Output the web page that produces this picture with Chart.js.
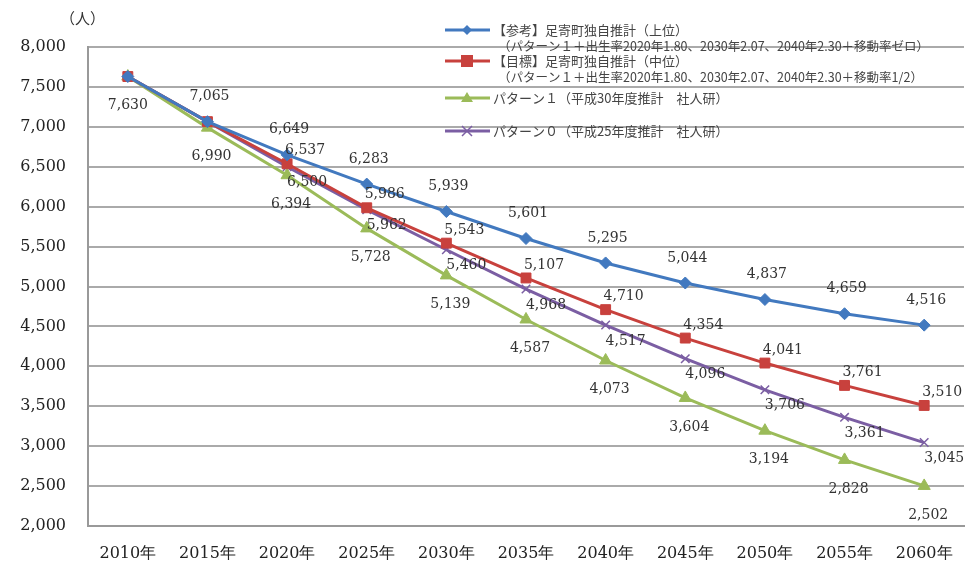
<!DOCTYPE html>
<html>
<head>
<meta charset="utf-8">
<script src="https://cdn.jsdelivr.net/npm/chart.js@4"></script>
<style>
  html, body { margin: 0; padding: 0; background: #fff; overflow: hidden; }
  #wrap { width: 972px; height: 576px; }
</style>
</head>
<body>
<div id="wrap"><canvas id="popChart" width="972" height="576"></canvas></div>
<script>
const years = ['2010年', '2015年', '2020年', '2025年', '2030年', '2035年', '2040年', '2045年', '2050年', '2055年', '2060年'];

// 【参考】上位
const upperEst = [7630, 7065, 6649, 6283, 5939, 5601, 5295, 5044, 4837, 4659, 4516];
// 【目標】中位
const targetEst = [7630, 7065, 6537, 5986, 5543, 5107, 4710, 4354, 4041, 3761, 3510];
// パターン１（H30 社人研）
const pattern1 = [7630, 6990, 6394, 5728, 5139, 4587, 4073, 3604, 3194, 2828, 2502];
// パターン（H25 社人研）
const pattern0 = [7630, 7065, 6500, 5962, 5460, 4968, 4517, 4096, 3706, 3361, 3045];

const seriesNames = [
  '【参考】足寄町独自推計（上位）',
  '【目標】足寄町独自推計（中位）',
  'パターン１（平成30年度推計　社人研）',
  'パターン０（平成25年度推計　社人研）'
];
const seriesNotes = [
  '（パターン１＋出生率2020年1.80、2030年2.07、2040年2.30＋移動率ゼロ）',
  '（パターン１＋出生率2020年1.80、2030年2.07、2040年2.30＋移動率1/2）',
  '',
  ''
];

const BLUE = '#4279bf', RED = '#c8413d', GREEN = '#9bbb59', PURPLE = '#7b5ea3';
const numFont = '"DejaVu Serif", "Liberation Serif", serif';
const jpFont = '"Noto Sans CJK JP", sans-serif';

const fmt = v => v.toLocaleString('en-US');

// value labels: offset from the point, and which points get one
const labelStyle = [
  { dx: 2, dy: -25, from: 1 },
  { dx: 18, dy: -13, from: 2 },
  { dx: 4, dy: 29, from: 0 },
  { dx: 20, dy: 16, from: 2 }
];

const valueLabels = {
  id: 'valueLabels',
  afterDatasetsDraw(chart) {
    const ctx = chart.ctx;
    ctx.save();
    ctx.font = '14px ' + numFont;
    ctx.fillStyle = '#333';
    ctx.textAlign = 'center';
    ctx.textBaseline = 'middle';
    chart.data.datasets.forEach((ds, i) => {
      const st = labelStyle[i];
      chart.getDatasetMeta(i).data.forEach((pt, j) => {
        if (j < st.from) return;
        const dx = j === 0 ? 0 : st.dx;
        ctx.fillText(fmt(ds.data[j]), pt.x + dx, pt.y + st.dy);
      });
    });
    ctx.restore();
  }
};

function drawMarker(ctx, kind, x, y, color) {
  ctx.fillStyle = color;
  ctx.strokeStyle = color;
  ctx.beginPath();
  if (kind === 'rectRot') {
    ctx.moveTo(x, y - 5); ctx.lineTo(x + 5, y); ctx.lineTo(x, y + 5); ctx.lineTo(x - 5, y);
    ctx.closePath(); ctx.fill();
  } else if (kind === 'rect') {
    ctx.fillRect(x - 6, y - 6, 12, 12);
  } else if (kind === 'triangle') {
    ctx.moveTo(x, y - 6); ctx.lineTo(x + 6, y + 4); ctx.lineTo(x - 6, y + 4);
    ctx.closePath(); ctx.fill();
  } else {
    ctx.lineWidth = 1.5;
    ctx.moveTo(x - 5, y - 5); ctx.lineTo(x + 5, y + 5);
    ctx.moveTo(x + 5, y - 5); ctx.lineTo(x - 5, y + 5);
    ctx.stroke();
  }
}

const legendBox = {
  id: 'legendBox',
  afterDraw(chart) {
    const ctx = chart.ctx;
    const rows = [30, 61, 98, 131];
    ctx.save();
    // unit
    ctx.font = '15px ' + jpFont;
    ctx.fillStyle = '#333';
    ctx.textBaseline = 'middle';
    ctx.fillText('（人）', 60, 18);

    chart.data.datasets.forEach((ds, i) => {
      const y = rows[i];
      ctx.strokeStyle = ds.borderColor;
      ctx.lineWidth = 3;
      ctx.beginPath();
      ctx.moveTo(445, y); ctx.lineTo(490, y);
      ctx.stroke();
      drawMarker(ctx, ds.pointStyle, 467, y, ds.borderColor);
      ctx.fillStyle = '#444';
      ctx.font = '13px ' + jpFont;
      ctx.fillText(seriesNames[i], 493, y);
      if (seriesNotes[i]) {
        ctx.font = '12.5px ' + jpFont;
        ctx.fillText(seriesNotes[i], 498, y + 16);
      }
    });
    ctx.restore();
  }
};

function line(data, color, style, radius) {
  return {
    data: data,
    borderColor: color,
    backgroundColor: color,
    borderWidth: 3,
    pointStyle: style,
    pointRadius: radius,
    pointBorderWidth: style === 'crossRot' ? 1.5 : 1,
    tension: 0
  };
}

new Chart(document.getElementById('popChart'), {
  type: 'line',
  data: {
    labels: years,
    datasets: [
      line(upperEst, BLUE, 'rectRot', 6),
      line(targetEst, RED, 'rect', 7),
      line(pattern1, GREEN, 'triangle', 7),
      line(pattern0, PURPLE, 'crossRot', 6)
    ]
  },
  options: {
    responsive: false,
    animation: false,
    devicePixelRatio: 1,
    layout: { padding: { top: 47, right: 3, left: 0, bottom: 0 } },
    plugins: {
      legend: { display: false },
      tooltip: { enabled: false }
    },
    scales: {
      x: {
        offset: true,
        grid: { display: false },
        border: { display: true, color: '#999', width: 2 },
        ticks: { color: '#222', font: { family: numFont, size: 16 }, padding: 10, maxRotation: 0 },
        afterFit(scale) { scale.height = 50; }
      },
      y: {
        min: 2000,
        max: 8000,
        ticks: {
          stepSize: 500,
          color: '#222',
          padding: 22,
          font: { family: numFont, size: 16 },
          callback: v => fmt(v)
        },
        grid: { color: '#aaa', lineWidth: 2, drawTicks: false },
        border: { display: true, color: '#999', width: 2 },
        afterFit(scale) { scale.width = 88; }
      }
    }
  },
  plugins: [valueLabels, legendBox]
});
</script>
</body>
</html>
